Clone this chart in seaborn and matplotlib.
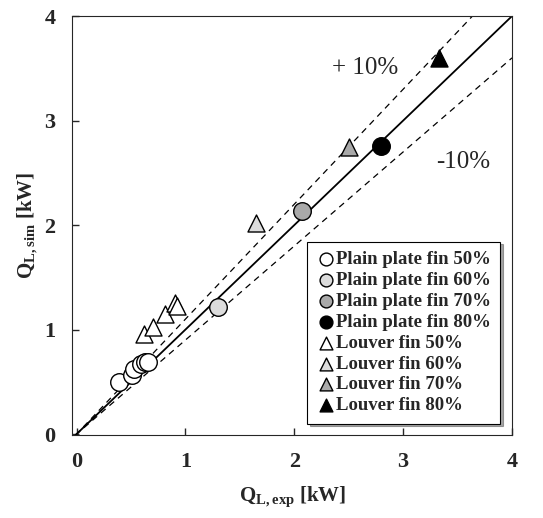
import matplotlib as mpl
mpl.use("Agg")
import matplotlib.pyplot as plt
import seaborn as sns
import pandas as pd

sns.set_style("ticks")
plt.rcParams["font.family"] = ["Liberation Serif", "DejaVu Serif"]
plt.rcParams["mathtext.fontset"] = "custom"
plt.rcParams["mathtext.rm"] = "Liberation Serif"
plt.rcParams["mathtext.bf"] = "Liberation Serif:bold"

# measured (exp) vs simulated heat load [kW]
plain50_exp = [0.39, 0.51, 0.53, 0.59, 0.63, 0.66]
plain50_sim = [0.50, 0.57, 0.62, 0.67, 0.69, 0.69]
plain60_exp = [1.30]
plain60_sim = [1.22]
plain70_exp = [2.07]
plain70_sim = [2.13]
plain80_exp = [2.80]
plain80_sim = [2.76]
louver50_exp = [0.62, 0.70, 0.81, 0.90, 0.92]
louver50_sim = [0.96, 1.02, 1.15, 1.25, 1.23]
louver60_exp = [1.65]
louver60_sim = [2.02]
louver70_exp = [2.50]
louver70_sim = [2.75]
louver80_exp = [3.33]
louver80_sim = [3.60]

groups = ["Plain plate fin 50%", "Plain plate fin 60%", "Plain plate fin 70%", "Plain plate fin 80%",
          "Louver fin 50%", "Louver fin 60%", "Louver fin 70%", "Louver fin 80%"]
xs = [plain50_exp, plain60_exp, plain70_exp, plain80_exp, louver50_exp, louver60_exp, louver70_exp, louver80_exp]
ys = [plain50_sim, plain60_sim, plain70_sim, plain80_sim, louver50_sim, louver60_sim, louver70_sim, louver80_sim]
fills = ["white", "#dcdcdc", "#a9a9a9", "black"] * 2
markers = ["o"] * 4 + ["^"] * 4

rows = []
for g, x, y in zip(groups, xs, ys):
    for a, b in zip(x, y):
        rows.append({"exp": a, "sim": b, "group": g})
df = pd.DataFrame(rows)

fig = plt.figure(figsize=(5.43, 5.18), dpi=100)
ax = fig.add_axes([0.133, 0.160, 0.810, 0.809])

ax.axline((0, 0), slope=1.0, color="black", lw=1.3)
ax.axline((0, 0), slope=1.1, color="black", lw=0.9, ls=(0, (5, 4)))
ax.axline((0, 0), slope=0.9, color="black", lw=0.9, ls=(0, (5, 4)))

for g, f, m in zip(groups, fills, markers):
    sub = df[df["group"] == g]
    sns.scatterplot(data=sub, x="exp", y="sim", ax=ax, marker=m, color=f,
                    edgecolor="black", linewidth=1.0, s=160 if m == "o" else 150,
                    label=g, zorder=3)

ax.set_xlim(-0.04, 4)
ax.set_ylim(-0.01, 4)
ax.set_xticks([0, 1, 2, 3, 4])
ax.set_yticks([0, 1, 2, 3, 4])
ax.tick_params(direction="in", length=5, width=1, labelsize=16, pad=12)
for lab in ax.get_xticklabels() + ax.get_yticklabels():
    lab.set_fontweight("bold")

ax.set_xlabel(r"$\mathbf{Q_{L,exp}}$ [kW]", fontsize=15, fontweight="bold", labelpad=9)
ax.set_ylabel(r"$\mathbf{Q_{L,sim}}$ [kW]", fontsize=15, fontweight="bold", labelpad=3)

ax.text(2.65, 3.50, "+ 10%", fontsize=18, ha="center", va="center")
ax.text(3.55, 2.60, "-10%", fontsize=18, ha="center", va="center")

leg = ax.legend(loc="lower right", bbox_to_anchor=(0.995, 0.005), frameon=True, fancybox=False,
                shadow=True, handletextpad=0.05, handlelength=1.0, borderpad=0.5,
                labelspacing=0.2, prop={"weight": "bold", "size": 13.5})
leg.get_frame().set_edgecolor("black")
leg.get_frame().set_linewidth(0.8)
for h in leg.legend_handles:
    h.set_sizes([85])

fig.savefig("out.png", dpi=100)
